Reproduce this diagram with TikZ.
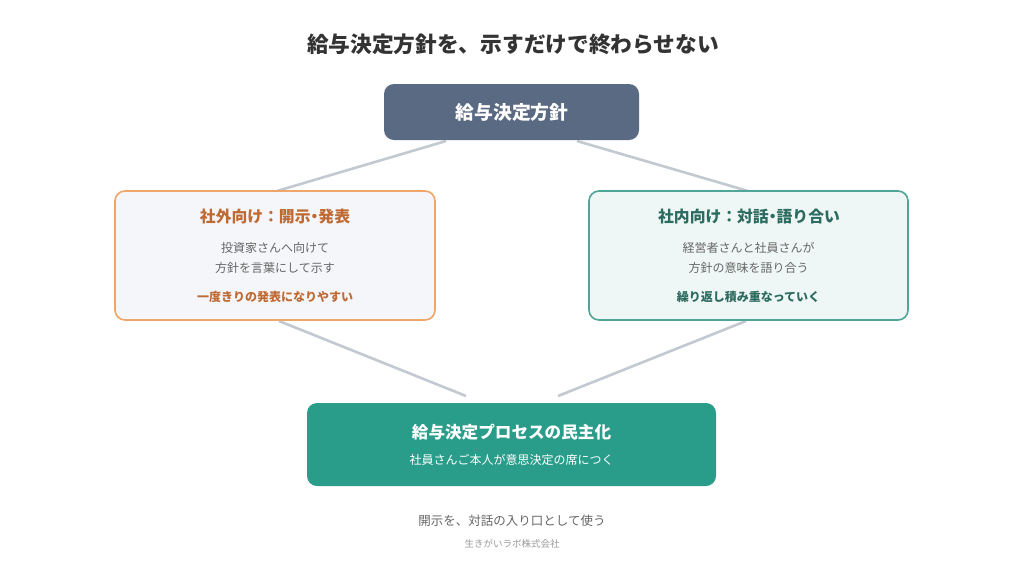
\documentclass[tikz,border=0pt]{standalone}
\usepackage{fontspec}
\setmainfont{Noto Sans CJK JP}
\newcommand{\ndot}{{\addfontfeatures{RawFeature=+palt}・}}
\definecolor{topfill}{HTML}{5A6A82}
\definecolor{orangeb}{HTML}{EFA66A}
\definecolor{oranget}{HTML}{BF6A34}
\definecolor{leftfill}{HTML}{F5F6FA}
\definecolor{tealb}{HTML}{4FA597}
\definecolor{rightfill}{HTML}{EEF7F5}
\definecolor{tealt}{HTML}{2C6B5F}
\definecolor{botfill}{HTML}{2A9D8A}
\definecolor{linec}{HTML}{C3C9D1}
\definecolor{titlec}{HTML}{333333}
\definecolor{bodyc}{HTML}{666666}
\definecolor{footc}{HTML}{9A9A9A}
\begin{document}
\begin{tikzpicture}[x=1pt,y=-1pt,
  box/.style={rounded corners=10pt, line width=1.6pt},
  conn/.style={draw=linec, line width=2.6pt},
  txt/.style={inner sep=0pt, anchor=center}]
\useasboundingbox (0,0) rectangle (1024,576);
\fill[white] (0,0) rectangle (1024,576);
% connectors
\coordinate (t1) at (446,141);
\coordinate (t2) at (577,141);
\coordinate (l1) at (277,191);
\coordinate (r1) at (748,191);
\coordinate (l2) at (279,321);
\coordinate (r2) at (746,321);
\coordinate (b1) at (466,396);
\coordinate (b2) at (558,396);
\draw[conn] (t1) -- (l1);
\draw[conn] (t2) -- (r1);
\draw[conn] (l2) -- (b1);
\draw[conn] (r2) -- (b2);
% boxes
\draw[box, fill=topfill, draw=none] (384,84) rectangle (639,140);
\draw[box, fill=leftfill, draw=orangeb] (115,191) rectangle (435,320);
\draw[box, fill=rightfill, draw=tealb] (589,191) rectangle (908,320);
\draw[box, fill=botfill, draw=none] (307,403) rectangle (716,486);
% texts
\node[txt, text=titlec, font=\bfseries\fontsize{21.7}{24}\selectfont] (title) at (513,44) {給与決定方針を、示すだけで終わらせない};
\node[txt, text=white, font=\bfseries\fontsize{18.8}{22}\selectfont] (top) at (512,112) {給与決定方針};
\node[txt, text=oranget, font=\bfseries\fontsize{15.8}{18}\selectfont] (lt) at (275,217) {社外向け：開示\ndot 発表};
\node[txt, text=bodyc, font=\fontsize{12}{20}\selectfont, align=center] (lb) at (275,258) {投資家さんへ向けて\\方針を言葉にして示す};
\node[txt, text=oranget, font=\bfseries\fontsize{12}{16}\selectfont] (le) at (275,297) {一度きりの発表になりやすい};
\node[txt, text=tealt, font=\bfseries\fontsize{15.8}{18}\selectfont] (rt) at (749,217) {社内向け：対話\ndot 語り合い};
\node[txt, text=bodyc, font=\fontsize{12}{20}\selectfont, align=center] (rb) at (748.5,258) {経営者さんと社員さんが\\方針の意味を語り合う};
\node[txt, text=tealt, font=\bfseries\fontsize{12}{16}\selectfont] (re) at (748.5,297) {繰り返し積み重なっていく};
\node[txt, text=white, font=\bfseries\fontsize{16.6}{20}\selectfont] (bt) at (511.5,432) {給与決定プロセスの民主化};
\node[txt, text=white, font=\fontsize{12}{16}\selectfont] (bb) at (511.5,460) {社員さんご本人が意思決定の席につく};
\node[txt, text=bodyc, font=\fontsize{12.5}{16}\selectfont] (f1) at (512,521) {開示を、対話の入り口として使う};
\node[txt, text=footc, font=\fontsize{9.5}{12}\selectfont] (f2) at (512,544) {生きがいラボ株式会社};
\end{tikzpicture}
\end{document}
